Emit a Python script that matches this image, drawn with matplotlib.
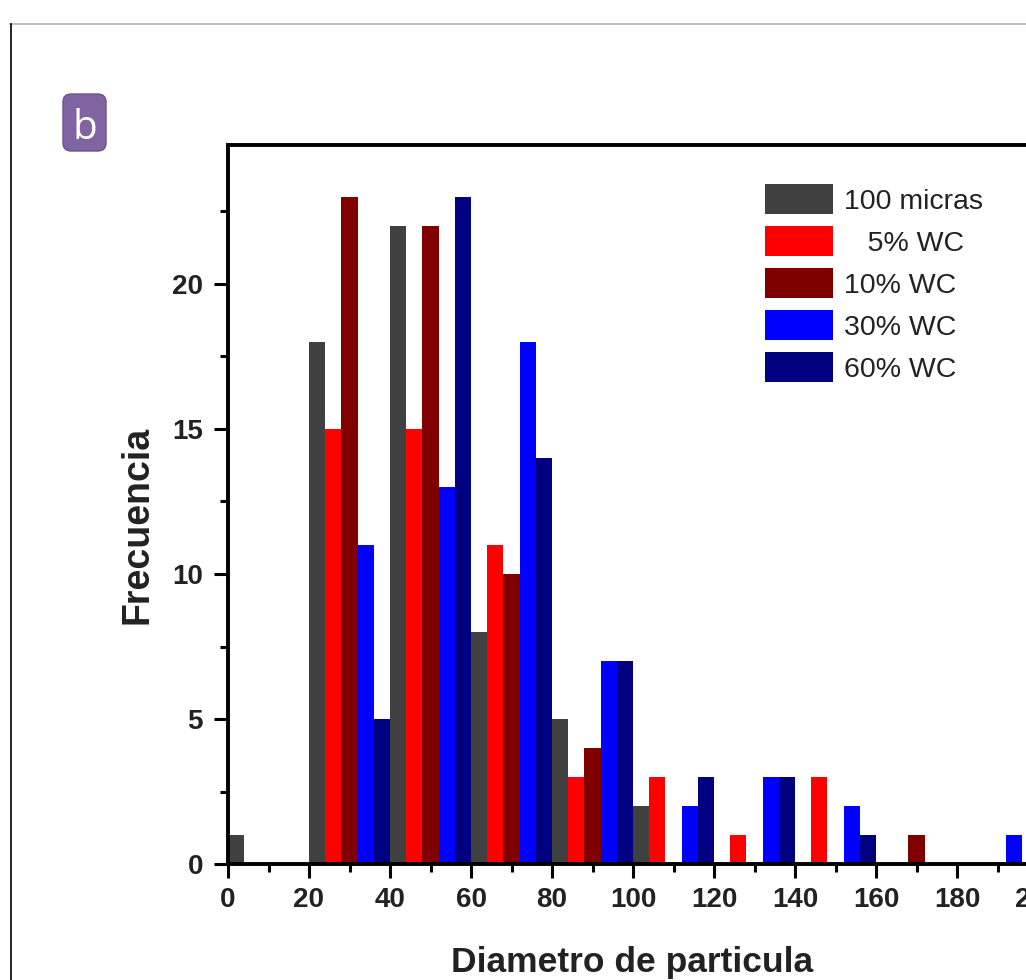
import matplotlib
matplotlib.use("Agg")
import matplotlib.pyplot as plt
from matplotlib.patches import Patch, FancyBboxPatch
from matplotlib.lines import Line2D
from matplotlib.ticker import MultipleLocator

plt.rcParams["font.family"] = ["Liberation Sans", "DejaVu Sans"]

# particle diameter histogram, bins of 20 (left edges)
bin_left = [0, 20, 40, 60, 80, 100, 120, 140, 160, 180]
micras100 = [1, 18, 22, 8, 5, 2, 0, 0, 0, 0]
wc5 = [0, 15, 15, 11, 3, 3, 1, 3, 0, 0]
wc10 = [0, 23, 22, 10, 4, 0, 0, 0, 1, 0]
wc30 = [0, 11, 13, 18, 7, 2, 3, 2, 0, 1]
wc60 = [0, 5, 23, 14, 7, 3, 3, 1, 0, 0]

labels = ["100 micras", "   5% WC", "10% WC", "30% WC", "60% WC"]
colors = ["#404040", "#ff0000", "#800000", "#0000ff", "#000080"]
series = [micras100, wc5, wc10, wc30, wc60]
sub_w = 4

fig = plt.figure(figsize=(10.26, 9.8), dpi=100)
W, H = 1026, 980
x0_px, x1_px = 228, 228 + 210 * 4.05
y0_px, y1_px = 864.3, 144.5
ax = fig.add_axes([x0_px / W, 1 - y0_px / H, (x1_px - x0_px) / W, (y0_px - y1_px) / H])

for i, (vals, c) in enumerate(zip(series, colors)):
    xs = [b + i * sub_w for b in bin_left]
    ax.bar(xs, vals, width=sub_w, align="edge", color=c, linewidth=0)

ax.set_xlim(0, 210)
ax.set_ylim(0, 24.8)
ax.xaxis.set_major_locator(MultipleLocator(20))
ax.xaxis.set_minor_locator(MultipleLocator(10))
ax.yaxis.set_major_locator(MultipleLocator(5))
ax.yaxis.set_minor_locator(MultipleLocator(2.5))
for s in ax.spines.values():
    s.set_linewidth(2.8)
ax.tick_params(which="major", direction="out", length=10, width=2.2)
ax.tick_params(which="minor", direction="out", length=6, width=2.2)
ax.tick_params(axis="y", which="major", pad=8)
ax.tick_params(axis="x", which="major", pad=6)
for lbl in ax.get_xticklabels() + ax.get_yticklabels():
    lbl.set_fontsize(20)
    lbl.set_fontweight("bold")
    lbl.set_color("#222222")

ax.set_ylabel("Frecuencia", fontsize=27, fontweight="bold", va="center", color="#222222")
ax.yaxis.set_label_coords((138 - x0_px) / (x1_px - x0_px), (y0_px - 525) / (y0_px - y1_px))
ax.set_xlabel("Diametro de particula", fontsize=25.5, fontweight="bold", va="center", color="#222222")
ax.xaxis.set_label_coords((632 - x0_px) / (x1_px - x0_px), (y0_px - 962) / (y0_px - y1_px))

handles = [Patch(facecolor=c, edgecolor="none") for c in colors]
ax.legend(handles, labels, loc="upper left", bbox_to_anchor=(765 / W, 1 - 184 / H),
          bbox_transform=fig.transFigure, frameon=False, fontsize=20.5, borderpad=0,
          handlelength=2.4, handleheight=1.25, handletextpad=0.36, labelspacing=0.4,
          borderaxespad=0, labelcolor="#222222")

# page frame lines
fig.add_artist(Line2D([10 / W, 1], [1 - 24.5 / H, 1 - 24.5 / H], color="#b5b5b5", lw=1.2))
fig.add_artist(Line2D([11 / W, 11 / W], [0, 1 - 24.5 / H], color="black", lw=1.2))

# panel badge
badge = FancyBboxPatch((63 / W, 1 - 151 / H), 43 / W, 57 / H,
                       boxstyle="round,pad=0,rounding_size=0.008", mutation_aspect=1.02,
                       transform=fig.transFigure, facecolor="#8064a2", edgecolor="#6a5290", lw=1)
fig.add_artist(badge)
fig.text(84.5 / W, 1 - 139 / H, "b", color="white", fontsize=29, ha="center", va="baseline",
         family=["Open Sans", "DejaVu Sans"])

fig.savefig("out.png", dpi=100)
